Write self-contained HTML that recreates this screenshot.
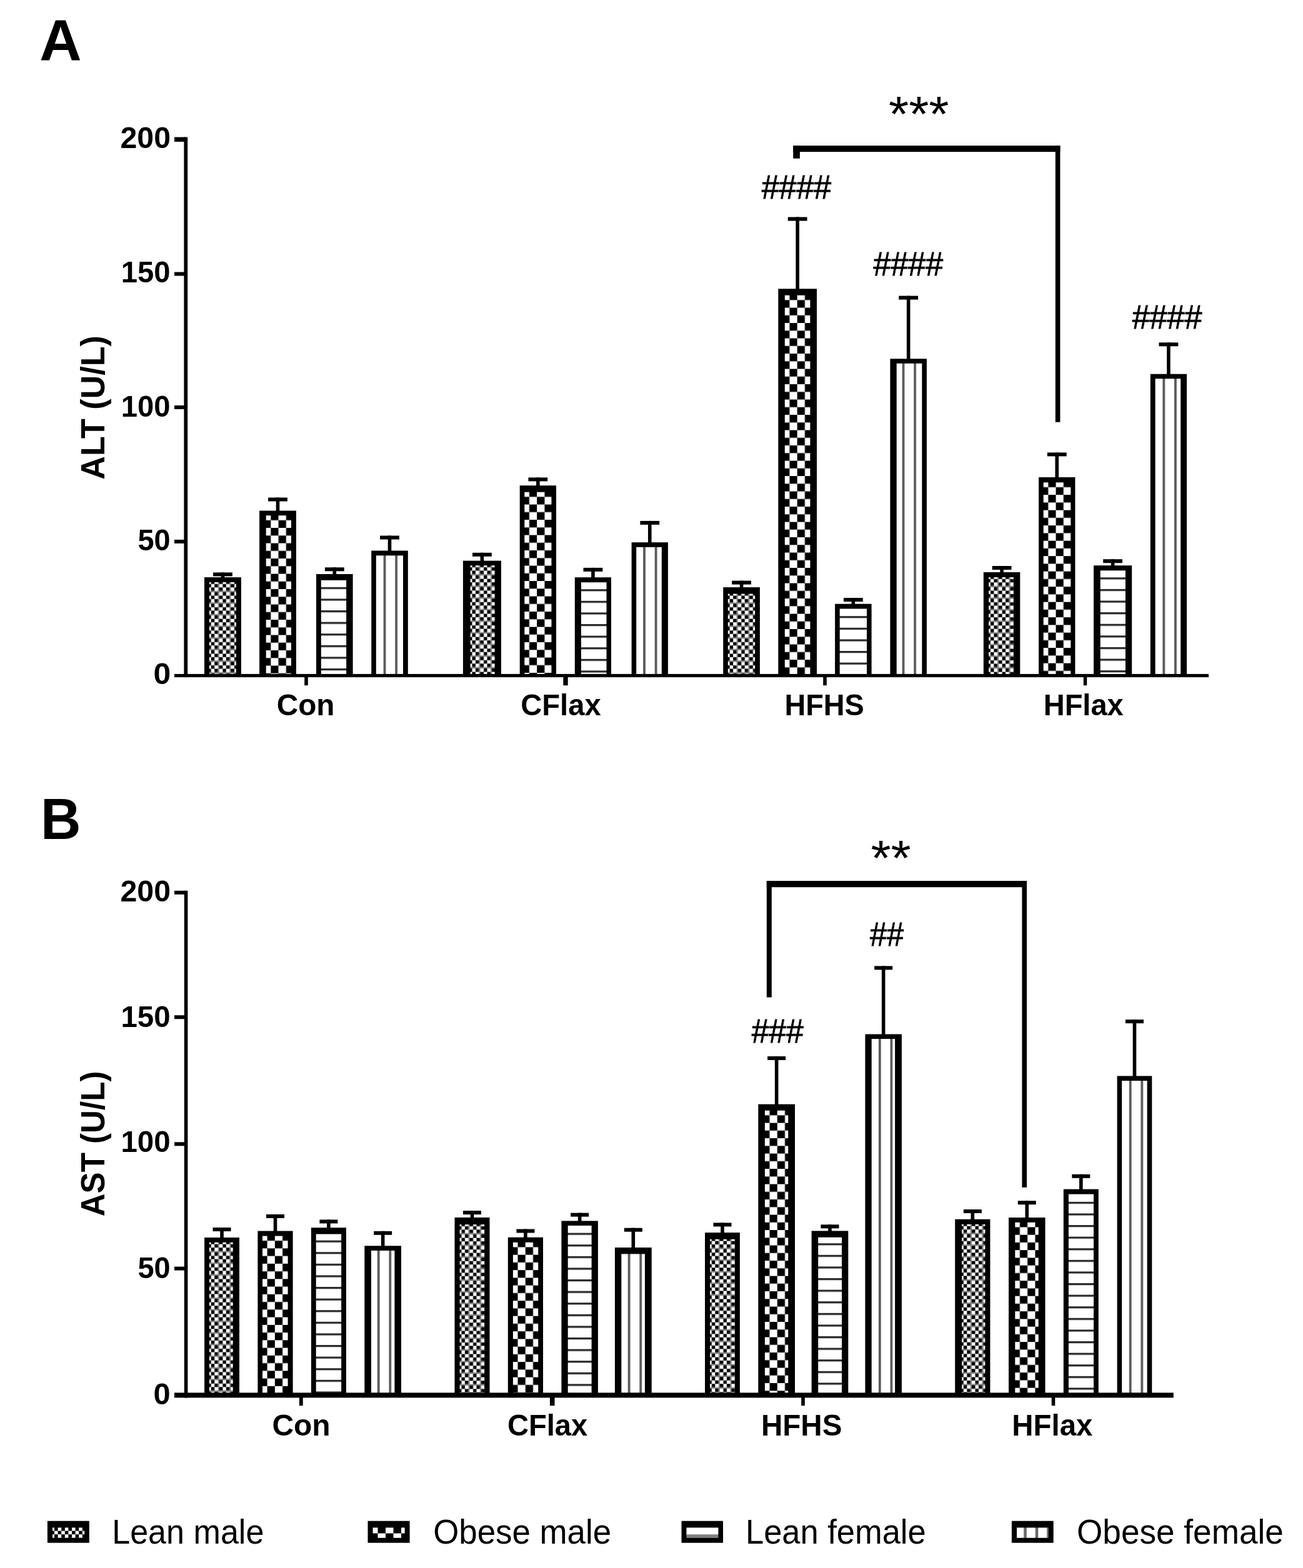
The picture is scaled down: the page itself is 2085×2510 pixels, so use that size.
<!DOCTYPE html>
<html lang="en"><head><meta charset="utf-8"><title>Serum ALT and AST by diet group</title>
<style>html,body{margin:0;padding:0;background:#fff}body{width:2085px;height:2510px}svg{display:block}text{font-family:"Liberation Sans", sans-serif;fill:#000}</style>
</head><body>
<svg width="2085" height="2510" viewBox="0 0 2085 2510">
<rect width="2085" height="2510" fill="#fff"/>
<defs>
<pattern id="p1" patternUnits="userSpaceOnUse" x="-2.6" y="-2.6" width="37.2" height="37.2">
<rect width="37.2" height="37.2" fill="#fff"/>
<rect x="0" y="5.47" width="5.47" height="5.47"/>
<rect x="0" y="18.6" width="5.47" height="5.47"/>
<rect x="0" y="29.53" width="5.47" height="5.47"/>
<rect x="5.47" y="0" width="5.47" height="5.47"/>
<rect x="5.47" y="10.93" width="5.47" height="5.47"/>
<rect x="5.47" y="24.07" width="5.47" height="5.47"/>
<rect x="10.93" y="5.47" width="5.47" height="5.47"/>
<rect x="10.93" y="18.6" width="5.47" height="5.47"/>
<rect x="10.93" y="29.53" width="5.47" height="5.47"/>
<rect x="18.6" y="0" width="5.47" height="5.47"/>
<rect x="18.6" y="10.93" width="5.47" height="5.47"/>
<rect x="18.6" y="24.07" width="5.47" height="5.47"/>
<rect x="24.07" y="5.47" width="5.47" height="5.47"/>
<rect x="24.07" y="18.6" width="5.47" height="5.47"/>
<rect x="24.07" y="29.53" width="5.47" height="5.47"/>
<rect x="29.53" y="0" width="5.47" height="5.47"/>
<rect x="29.53" y="10.93" width="5.47" height="5.47"/>
<rect x="29.53" y="24.07" width="5.47" height="5.47"/>
<rect x="16.4" y="0" width="2.2" height="37.2" fill="#808080"/>
<rect x="0" y="16.4" width="37.2" height="2.2" fill="#808080"/>
<rect x="35" y="0" width="2.2" height="37.2" fill="#808080"/>
<rect x="0" y="35" width="37.2" height="2.2" fill="#808080"/>
</pattern>
<pattern id="p2" patternUnits="userSpaceOnUse" x="-4.65" y="-4.65" width="24.5" height="24.5"><rect width="24.5" height="24.5" fill="#fff"/><rect x="12.25" y="0" width="12.25" height="12.25"/><rect x="0" y="12.25" width="12.25" height="12.25"/></pattern>
<pattern id="p3" patternUnits="userSpaceOnUse" x="0" y="11.1" width="18.6" height="18.6"><rect width="18.6" height="18.6" fill="#fff"/><rect width="18.6" height="3.2" fill="#2a2a2a"/></pattern>
<pattern id="p4" patternUnits="userSpaceOnUse" x="11.3" y="0" width="18.6" height="18.6"><rect width="18.6" height="18.6" fill="#fff"/><rect width="3.8" height="18.6" fill="#5a5a5a"/></pattern>
</defs>
<g id="panel-a">
<g class="bars">
<rect x="341.05" y="916.4" width="30.8" height="6" fill="#000"/>
<rect x="353.65" y="916.4" width="5.6" height="8.7" fill="#000"/>
<rect x="327" y="924.1" width="58.9" height="157.4" fill="#000"/>
<rect transform="translate(334.9 932)" x="0" y="0" width="43" height="147.5" fill="url(#p1)"/>
<rect x="429.1" y="796.5" width="30.8" height="6" fill="#000"/>
<rect x="441.7" y="796.5" width="5.6" height="22" fill="#000"/>
<rect x="415.1" y="817.5" width="58.8" height="264" fill="#000"/>
<rect transform="translate(425.7 825.2)" x="0" y="0" width="40.2" height="254.3" fill="url(#p2)"/>
<rect x="519.9" y="908.3" width="30.8" height="6" fill="#000"/>
<rect x="532.5" y="908.3" width="5.6" height="11.7" fill="#000"/>
<rect x="506" y="919" width="58.6" height="162.5" fill="#000"/>
<rect transform="translate(513.8 928.7)" x="0" y="0.2" width="40.3" height="150.6" fill="url(#p3)"/>
<rect x="608.1" y="857.5" width="30.8" height="6" fill="#000"/>
<rect x="620.7" y="857.5" width="5.6" height="25" fill="#000"/>
<rect x="594.2" y="881.5" width="58.6" height="200" fill="#000"/>
<rect transform="translate(602.3 889.3)" x="-0.5" y="0" width="43.2" height="190.2" fill="url(#p4)"/>
<rect x="756" y="884.8" width="30.8" height="6" fill="#000"/>
<rect x="768.6" y="884.8" width="5.6" height="13.8" fill="#000"/>
<rect x="740.9" y="897.6" width="61" height="183.9" fill="#000"/>
<rect transform="translate(752.6 905.2)" x="0" y="0" width="39" height="174.3" fill="url(#p1)"/>
<rect x="845.45" y="764.4" width="30.8" height="6" fill="#000"/>
<rect x="858.05" y="764.4" width="5.6" height="13.8" fill="#000"/>
<rect x="831.7" y="777.2" width="58.3" height="304.3" fill="#000"/>
<rect transform="translate(839.3 787.7)" x="0" y="0" width="43.1" height="291.8" fill="url(#p2)"/>
<rect x="933.5" y="908.9" width="30.8" height="6" fill="#000"/>
<rect x="946.1" y="908.9" width="5.6" height="16.3" fill="#000"/>
<rect x="919.8" y="924.2" width="58.2" height="157.3" fill="#000"/>
<rect transform="translate(929.9 932.1)" x="0" y="0.1" width="40.6" height="147.3" fill="url(#p3)"/>
<rect x="1024.35" y="833.9" width="30.8" height="6" fill="#000"/>
<rect x="1036.95" y="833.9" width="5.6" height="35.3" fill="#000"/>
<rect x="1010.6" y="868.2" width="58.3" height="213.3" fill="#000"/>
<rect transform="translate(1017.8 875.8)" x="0.4" y="0" width="40.6" height="203.7" fill="url(#p4)"/>
<rect x="1171.15" y="929.6" width="30.8" height="6" fill="#000"/>
<rect x="1183.75" y="929.6" width="5.6" height="11.5" fill="#000"/>
<rect x="1157.2" y="940.1" width="58.7" height="141.4" fill="#000"/>
<rect transform="translate(1164.8 950.6)" x="0" y="0" width="43.3" height="128.9" fill="url(#p1)"/>
<rect x="1260.75" y="347.5" width="30.8" height="6" fill="#000"/>
<rect x="1273.35" y="347.5" width="5.6" height="115.8" fill="#000"/>
<rect x="1245.3" y="462.3" width="61.7" height="619.2" fill="#000"/>
<rect transform="translate(1255.8 472.7)" x="0" y="0" width="40.6" height="606.8" fill="url(#p2)"/>
<rect x="1349.95" y="957.1" width="30.8" height="6" fill="#000"/>
<rect x="1362.55" y="957.1" width="5.6" height="10.6" fill="#000"/>
<rect x="1336.1" y="966.7" width="58.5" height="114.8" fill="#000"/>
<rect transform="translate(1343.7 975.1)" x="0" y="-0.6" width="43.3" height="105" fill="url(#p3)"/>
<rect x="1438.25" y="473.6" width="30.8" height="6" fill="#000"/>
<rect x="1450.85" y="473.6" width="5.6" height="101.7" fill="#000"/>
<rect x="1424.4" y="574.3" width="58.5" height="507.2" fill="#000"/>
<rect transform="translate(1432.3 581.8)" x="2.4" y="0" width="40.6" height="497.7" fill="url(#p4)"/>
<rect x="1587.65" y="906" width="30.8" height="6" fill="#000"/>
<rect x="1600.25" y="906" width="5.6" height="11" fill="#000"/>
<rect x="1573.8" y="916" width="58.5" height="165.5" fill="#000"/>
<rect transform="translate(1582.1 924)" x="0" y="0" width="39.9" height="155.5" fill="url(#p1)"/>
<rect x="1675.85" y="724.4" width="30.8" height="6" fill="#000"/>
<rect x="1688.45" y="724.4" width="5.6" height="40.6" fill="#000"/>
<rect x="1662.1" y="764" width="58.3" height="317.5" fill="#000"/>
<rect transform="translate(1669.7 772.3)" x="0" y="0" width="43.6" height="307.2" fill="url(#p2)"/>
<rect x="1765.2" y="895.2" width="30.8" height="6" fill="#000"/>
<rect x="1777.8" y="895.2" width="5.6" height="11" fill="#000"/>
<rect x="1750" y="905.2" width="61.2" height="176.3" fill="#000"/>
<rect transform="translate(1760.7 913.2)" x="0" y="0.1" width="40.2" height="166.2" fill="url(#p3)"/>
<rect x="1854.5" y="548.3" width="30.8" height="6" fill="#000"/>
<rect x="1867.1" y="548.3" width="5.6" height="51.4" fill="#000"/>
<rect x="1840.8" y="598.7" width="58.2" height="482.8" fill="#000"/>
<rect transform="translate(1849.1 606.2)" x="-0.5" y="0" width="40.6" height="473.3" fill="url(#p4)"/>
</g>
<g class="axes">
<rect x="294.4" y="219.5" width="5.8" height="864.6" fill="#000"/>
<rect x="279" y="1078.9" width="1655" height="5.2" fill="#000"/>
<rect x="279" y="863.9" width="18.3" height="6" fill="#000"/>
<rect x="279" y="649" width="18.3" height="6" fill="#000"/>
<rect x="279" y="435.5" width="18.3" height="6" fill="#000"/>
<rect x="279" y="219.5" width="18.3" height="7.4" fill="#000"/>
<rect x="487.2" y="1081.5" width="5.6" height="15.7" fill="#000"/>
<rect x="901.3" y="1081.5" width="7.4" height="15.7" fill="#000"/>
<rect x="1317.2" y="1081.5" width="5.6" height="15.7" fill="#000"/>
<rect x="1733.8" y="1081.5" width="5.4" height="15.7" fill="#000"/>
</g>
<g class="labels">
<text transform="translate(192.39 237.22) scale(1.0068 1)" font-size="48" font-weight="bold">200</text>
<text transform="translate(193.81 452.02) scale(0.9835 1)" font-size="48" font-weight="bold">150</text>
<text transform="translate(193.81 667.02) scale(0.9835 1)" font-size="48" font-weight="bold">100</text>
<text transform="translate(220.39 881.22) scale(0.9776 1)" font-size="48" font-weight="bold">50</text>
<text transform="translate(245.4 1094.82) scale(1.0402 1)" font-size="48" font-weight="bold">0</text>
<text transform="translate(442.79 1145.22) scale(0.9934 1)" font-size="48" font-weight="bold">Con</text>
<text transform="translate(833.31 1144.72) scale(0.9819 1)" font-size="48" font-weight="bold">CFlax</text>
<text transform="translate(1255.38 1145.12) scale(0.9745 1)" font-size="48" font-weight="bold">HFHS</text>
<text transform="translate(1669.66 1145.12) scale(0.9800 1)" font-size="48" font-weight="bold">HFlax</text>
<text transform="translate(166.8 767.69) rotate(-90) scale(0.9744 1)" font-size="53.5" font-weight="bold">ALT (U/L)</text>
<text transform="translate(63.21 96.15) scale(0.9977 1)" font-size="93.5" font-weight="bold">A</text>
</g>
<g class="annotations">
<rect x="1269.2" y="233.1" width="427.2" height="10" fill="#000"/>
<rect x="1269.2" y="233.1" width="10.7" height="20.6" fill="#000"/>
<rect x="1688.8" y="233.1" width="7.6" height="442.6" fill="#000"/>
<text transform="translate(1422.02 210.06) scale(1.0400 1)" font-size="79.5">***</text>
<text transform="translate(1218.73 318) scale(0.9273 1)" font-size="54" stroke="#000" stroke-width="0.9">####</text>
<text transform="translate(1397.53 440.8) scale(0.9290 1)" font-size="54" stroke="#000" stroke-width="0.9">####</text>
<text transform="translate(1811.63 525.8) scale(0.9307 1)" font-size="54" stroke="#000" stroke-width="0.9">####</text>
</g>
</g>
<g id="panel-b">
<g class="bars">
<rect x="340.55" y="1965" width="29" height="6" fill="#000"/>
<rect x="352.25" y="1965" width="5.6" height="17" fill="#000"/>
<rect x="327.1" y="1981" width="55.9" height="252.4" fill="#000"/>
<rect transform="translate(334.9 1988.8)" x="0" y="0" width="37.8" height="241" fill="url(#p1)"/>
<rect x="426" y="1943.9" width="29" height="6" fill="#000"/>
<rect x="437.7" y="1943.9" width="5.6" height="27.6" fill="#000"/>
<rect x="412.4" y="1970.5" width="56.2" height="262.9" fill="#000"/>
<rect transform="translate(420 1978.5)" x="0" y="0" width="40.6" height="251.3" fill="url(#p2)"/>
<rect x="511.4" y="1952.4" width="29" height="6" fill="#000"/>
<rect x="523.1" y="1952.4" width="5.6" height="13.8" fill="#000"/>
<rect x="497.9" y="1965.2" width="56" height="268.2" fill="#000"/>
<rect transform="translate(505.7 1974.5)" x="0" y="1" width="40.4" height="254.3" fill="url(#p3)"/>
<rect x="598.15" y="1970.8" width="29" height="6" fill="#000"/>
<rect x="609.85" y="1970.8" width="5.6" height="24.5" fill="#000"/>
<rect x="583.3" y="1994.3" width="58.7" height="239.1" fill="#000"/>
<rect transform="translate(592.5 2001.9)" x="1.5" y="0" width="37.4" height="227.9" fill="url(#p4)"/>
<rect x="741" y="1938.1" width="29" height="6" fill="#000"/>
<rect x="752.7" y="1938.1" width="5.6" height="11.8" fill="#000"/>
<rect x="727.5" y="1948.9" width="56" height="284.5" fill="#000"/>
<rect transform="translate(735.6 1960.1)" x="0" y="0" width="39.6" height="269.7" fill="url(#p1)"/>
<rect x="826.4" y="1967.5" width="29" height="6" fill="#000"/>
<rect x="838.1" y="1967.5" width="5.6" height="14.2" fill="#000"/>
<rect x="812.8" y="1980.7" width="56.2" height="252.7" fill="#000"/>
<rect transform="translate(820.9 1988.8)" x="0" y="0" width="40.3" height="241" fill="url(#p2)"/>
<rect x="913.15" y="1941.6" width="29" height="6" fill="#000"/>
<rect x="924.85" y="1941.6" width="5.6" height="13.8" fill="#000"/>
<rect x="898.4" y="1954.4" width="58.5" height="279" fill="#000"/>
<rect transform="translate(908.7 1962.5)" x="0" y="-0.6" width="37.9" height="267.9" fill="url(#p3)"/>
<rect x="998.8" y="1965.7" width="29" height="6" fill="#000"/>
<rect x="1010.5" y="1965.7" width="5.6" height="32.3" fill="#000"/>
<rect x="983.9" y="1997" width="58.8" height="236.4" fill="#000"/>
<rect transform="translate(993.4 2007.3)" x="0.9" y="0" width="37.6" height="222.5" fill="url(#p4)"/>
<rect x="1141.45" y="1957.4" width="29" height="6" fill="#000"/>
<rect x="1153.15" y="1957.4" width="5.6" height="16.7" fill="#000"/>
<rect x="1128" y="1973.1" width="55.9" height="260.3" fill="#000"/>
<rect transform="translate(1136 1983.7)" x="0" y="0" width="39.9" height="246.1" fill="url(#p1)"/>
<rect x="1228.15" y="1690.9" width="29" height="6" fill="#000"/>
<rect x="1239.85" y="1690.9" width="5.6" height="77.7" fill="#000"/>
<rect x="1213.3" y="1767.6" width="58.7" height="465.8" fill="#000"/>
<rect transform="translate(1223.9 1777.7)" x="0" y="0" width="37.3" height="452.1" fill="url(#p2)"/>
<rect x="1313.45" y="1960.3" width="29" height="6" fill="#000"/>
<rect x="1325.15" y="1960.3" width="5.6" height="11.1" fill="#000"/>
<rect x="1298.6" y="1970.4" width="58.7" height="263" fill="#000"/>
<rect transform="translate(1309.2 1979.1)" x="0" y="1.6" width="37.8" height="249.1" fill="url(#p3)"/>
<rect x="1399.15" y="1546.4" width="29" height="6" fill="#000"/>
<rect x="1410.85" y="1546.4" width="5.6" height="110.1" fill="#000"/>
<rect x="1384.4" y="1655.5" width="58.5" height="577.9" fill="#000"/>
<rect transform="translate(1394.6 1663)" x="0.1" y="0" width="37.4" height="566.8" fill="url(#p4)"/>
<rect x="1541.8" y="1936" width="29" height="6" fill="#000"/>
<rect x="1553.5" y="1936" width="5.6" height="16.7" fill="#000"/>
<rect x="1528.2" y="1951.7" width="56.2" height="281.7" fill="#000"/>
<rect transform="translate(1539 1959.8)" x="0" y="0" width="37.4" height="270" fill="url(#p1)"/>
<rect x="1628.75" y="1922.2" width="29" height="6" fill="#000"/>
<rect x="1640.45" y="1922.2" width="5.6" height="27.8" fill="#000"/>
<rect x="1614" y="1949" width="58.5" height="284.4" fill="#000"/>
<rect transform="translate(1624.3 1956.8)" x="0" y="0" width="37.4" height="273" fill="url(#p2)"/>
<rect x="1715.3" y="1879.8" width="29" height="6" fill="#000"/>
<rect x="1727" y="1879.8" width="5.6" height="24.8" fill="#000"/>
<rect x="1701.8" y="1903.6" width="56" height="329.8" fill="#000"/>
<rect transform="translate(1709.9 1912.7)" x="0" y="-1.1" width="40.1" height="318.2" fill="url(#p3)"/>
<rect x="1800.95" y="1632.1" width="29" height="6" fill="#000"/>
<rect x="1812.65" y="1632.1" width="5.6" height="91.3" fill="#000"/>
<rect x="1787.6" y="1722.4" width="55.7" height="511" fill="#000"/>
<rect transform="translate(1795.5 1730)" x="-0.3" y="0" width="40.4" height="499.8" fill="url(#p4)"/>
</g>
<g class="axes">
<rect x="294.8" y="1425.8" width="5.6" height="811.6" fill="#000"/>
<rect x="279" y="2229.4" width="1598.8" height="8" fill="#000"/>
<rect x="279" y="2027.6" width="18.6" height="6" fill="#000"/>
<rect x="279" y="1828.3" width="18.6" height="6" fill="#000"/>
<rect x="279" y="1625.2" width="18.6" height="6" fill="#000"/>
<rect x="279" y="1425.8" width="18.6" height="6" fill="#000"/>
<rect x="478.9" y="2233.4" width="5.8" height="16.8" fill="#000"/>
<rect x="879.9" y="2233.4" width="7.6" height="16.8" fill="#000"/>
<rect x="1282.2" y="2233.4" width="5.6" height="16.8" fill="#000"/>
<rect x="1682.7" y="2233.4" width="5.6" height="16.8" fill="#000"/>
</g>
<g class="labels">
<text transform="translate(192.39 1443.22) scale(1.0068 1)" font-size="48" font-weight="bold">200</text>
<text transform="translate(193.39 1644.32) scale(0.9888 1)" font-size="48" font-weight="bold">150</text>
<text transform="translate(193.39 1844.32) scale(0.9888 1)" font-size="48" font-weight="bold">100</text>
<text transform="translate(220.39 2045.52) scale(0.9776 1)" font-size="48" font-weight="bold">50</text>
<text transform="translate(245.44 2247.62) scale(1.0184 1)" font-size="48" font-weight="bold">0</text>
<text transform="translate(435.38 2298.42) scale(0.9991 1)" font-size="48" font-weight="bold">Con</text>
<text transform="translate(811.91 2298.02) scale(0.9819 1)" font-size="48" font-weight="bold">CFlax</text>
<text transform="translate(1217.93 2298.02) scale(0.9912 1)" font-size="48" font-weight="bold">HFHS</text>
<text transform="translate(1619.34 2298.02) scale(0.9871 1)" font-size="48" font-weight="bold">HFlax</text>
<text transform="translate(167.2 1947.36) rotate(-90) scale(0.9557 1)" font-size="53.5" font-weight="bold">AST (U/L)</text>
<text transform="translate(65.03 1342.5) scale(0.9573 1)" font-size="93.5" font-weight="bold">B</text>
</g>
<g class="annotations">
<rect x="1226.8" y="1410.1" width="416.2" height="10.1" fill="#000"/>
<rect x="1226.8" y="1410.1" width="8" height="186.4" fill="#000"/>
<rect x="1635.4" y="1410.1" width="7.6" height="490.7" fill="#000"/>
<text transform="translate(1393.43 1401.46) scale(1.0361 1)" font-size="79.5">**</text>
<text transform="translate(1392.04 1513.5) scale(0.9013 1)" font-size="54" stroke="#000" stroke-width="0.9">##</text>
<text transform="translate(1202.73 1668.8) scale(0.9203 1)" font-size="54" stroke="#000" stroke-width="0.9">###</text>
</g>
</g>
<g id="legend">
<rect x="75.9" y="2434.7" width="66.9" height="35" fill="#000"/>
<rect transform="translate(84 2445.4)" width="51.2" height="16.4" fill="url(#lp1)"/>
<text transform="translate(179.16 2470.7) scale(0.9387 1)" font-size="55.5">Lean male</text>
<rect x="588.5" y="2434.7" width="67.1" height="35" fill="#000"/>
<rect transform="translate(596.6 2445.4)" width="51.1" height="16.4" fill="url(#lp2)"/>
<text transform="translate(693.13 2470.7) scale(0.9529 1)" font-size="55.5">Obese male</text>
<rect x="1090.5" y="2434.7" width="66.5" height="35" fill="#000"/>
<rect transform="translate(1098.4 2445.4)" width="51" height="16.4" fill="url(#lp3)"/>
<text transform="translate(1193.03 2470.7) scale(0.9450 1)" font-size="55.5">Lean female</text>
<rect x="1618.9" y="2434.7" width="66.8" height="35" fill="#000"/>
<rect transform="translate(1627 2445.4)" width="50.9" height="16.4" fill="url(#lp4)"/>
<text transform="translate(1723.02 2470.7) scale(0.9577 1)" font-size="55.5">Obese female</text>
</g>
<defs>
<pattern id="lp1" patternUnits="userSpaceOnUse" x="-2.6" y="-0.4" width="11.2" height="11.2"><rect width="11.2" height="11.2" fill="#fff"/><rect x="5.6" width="5.6" height="5.6"/><rect y="5.6" width="5.6" height="5.6"/></pattern>
<pattern id="lp2" patternUnits="userSpaceOnUse" x="-4.6" y="-3.4" width="25" height="25"><rect width="25" height="25" fill="#fff"/><rect x="12.5" width="12.5" height="12.5"/><rect y="12.5" width="12.5" height="12.5"/></pattern>
<pattern id="lp3" patternUnits="userSpaceOnUse" x="0" y="0" width="60" height="60"><rect width="60" height="60" fill="#fff"/><rect y="10.8" width="60" height="6" fill="#808080"/></pattern>
<pattern id="lp4" patternUnits="userSpaceOnUse" x="0" y="0" width="18.5" height="60"><rect width="18.5" height="60" fill="#fff"/><rect x="11.2" width="4.6" height="60" fill="#666"/></pattern>
</defs>
</svg>
</body></html>
